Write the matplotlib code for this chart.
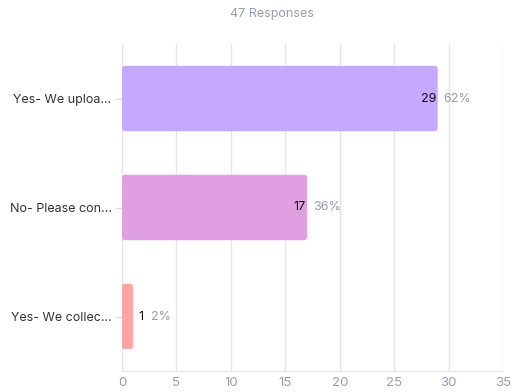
import matplotlib
matplotlib.use("Agg")
import matplotlib.pyplot as plt
from matplotlib.patches import FancyBboxPatch

plt.rcParams['font.family'] = ['Inter', 'DejaVu Sans']

labels = ['Yes- We uploa…', 'No- Please con…', 'Yes- We collec…']
counts = [29, 17, 1]
percents = ['62%', '36%', '2%']
colors = ['#c5a8ff', '#e09fe1', '#ffa3a3']
total = 47

fig = plt.figure(figsize=(5.12, 3.92), dpi=100)
ax = fig.add_axes([122 / 512, 21 / 392, 381 / 512, 327 / 392])

ypos = list(range(len(labels)))
bars = ax.barh(ypos, counts, height=0.6, color='none')
for b, c in zip(bars, colors):
    x, y = b.get_x(), b.get_y()
    w, h = b.get_width(), b.get_height()
    ax.add_patch(FancyBboxPatch((x, y), w, h,
                                boxstyle="round,pad=0,rounding_size=0.3",
                                mutation_aspect=0.1, facecolor=c,
                                edgecolor='none', zorder=3))
    b.remove()

for yv, v, p in zip(ypos, counts, percents):
    if v >= 3:
        ax.text(v - 0.15, yv, str(v), ha='right', va='center', fontsize=9,
                color='#111111', zorder=4)
        ax.text(v + 0.55, yv, p, ha='left', va='center', fontsize=9,
                color='#9a9aad', zorder=4)
    else:
        ax.text(v + 0.55, yv, str(v), ha='left', va='center', fontsize=9,
                color='#111111', zorder=4)
        ax.text(v + 1.7, yv, p, ha='left', va='center', fontsize=9,
                color='#9a9aad', zorder=4)

ax.set_xlim(0, 35)
ax.set_ylim(2.5, -0.5)
ax.set_xticks(range(0, 36, 5))
ax.set_yticks(ypos)
ax.set_yticklabels(labels)
ax.grid(axis='x', color='#e5e3ee', linewidth=1, zorder=0)
ax.set_axisbelow(True)
for s in ['top', 'right']:
    ax.spines[s].set_visible(False)
for s in ['left', 'bottom']:
    ax.spines[s].set_color('#e5e3ee')
ax.tick_params(axis='y', colors='#d8d6e2', labelcolor='#333333',
               labelsize=9, length=4)
ax.tick_params(axis='x', colors='#e5e3ee', labelcolor='#9a9aad',
               labelsize=9.5, length=0, pad=4)

fig.text(272 / 512, 1 - 14 / 392, f'{total} Responses', ha='center',
         va='center', fontsize=9, color='#9a9aad')

fig.savefig("out.png", dpi=100)
